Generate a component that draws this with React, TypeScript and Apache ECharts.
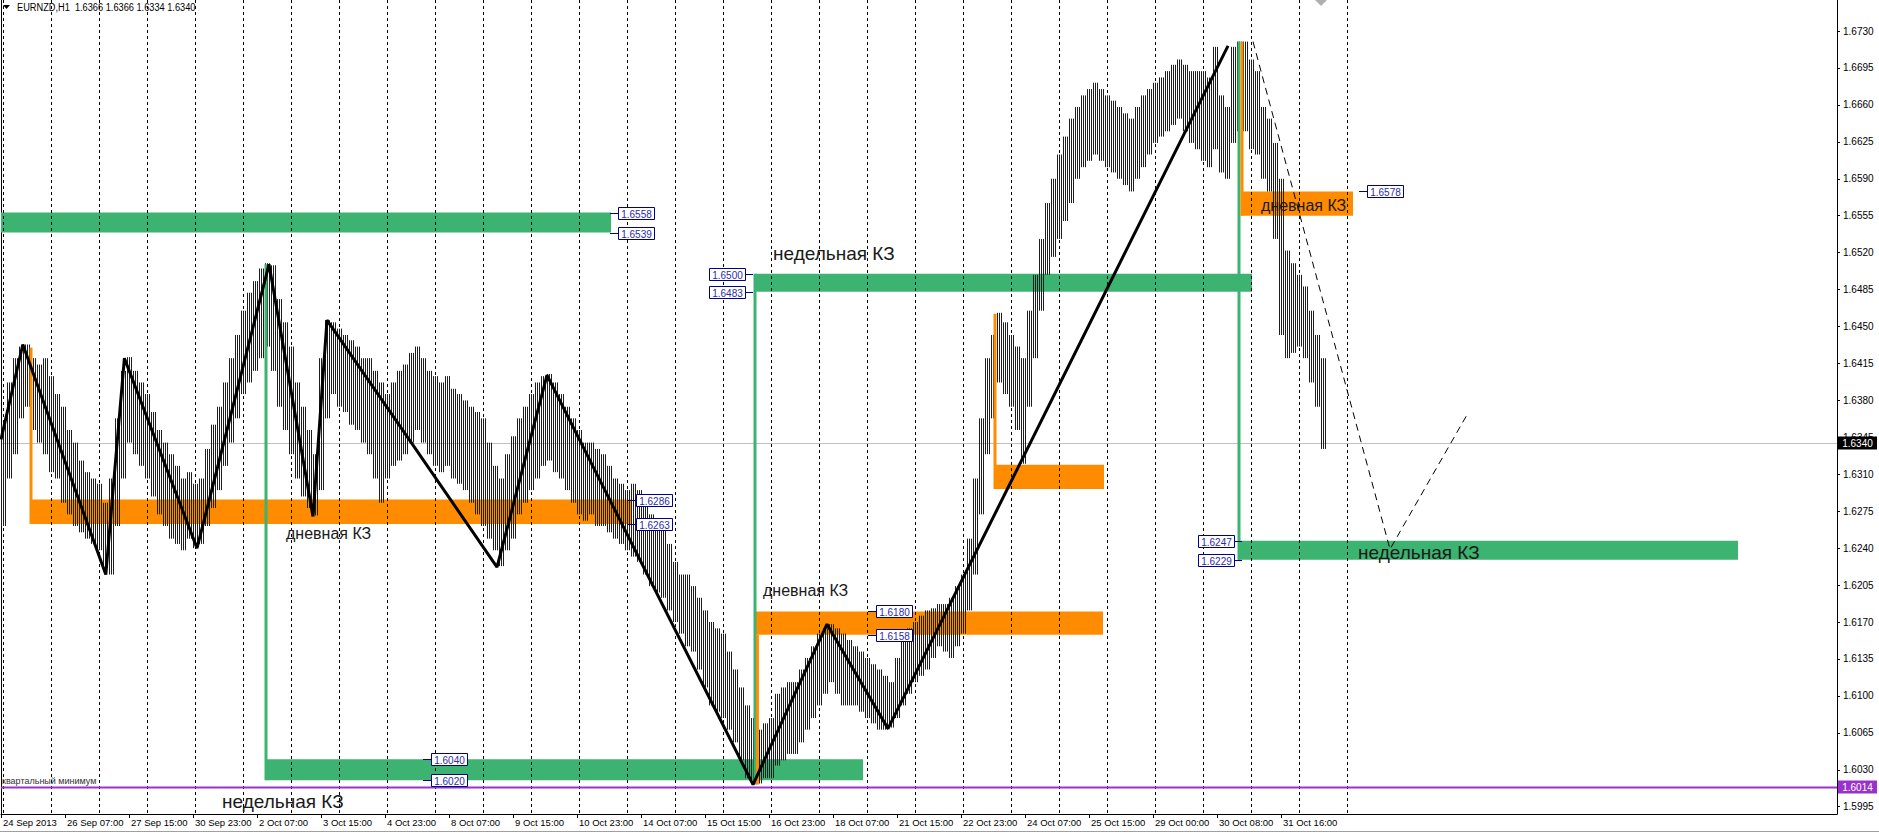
import React, { useEffect, useRef } from "react";
import * as echarts from "echarts";

const SANS = "'Liberation Sans', Arial, 'DejaVu Sans', sans-serif";

const chartTitle = "EURNZD,H1  1.6366 1.6366 1.6334 1.6340";

const timeLabels = [
  "24 Sep 2013", "26 Sep 07:00", "27 Sep 15:00", "30 Sep 23:00", "2 Oct 07:00", "3 Oct 15:00",
  "4 Oct 23:00", "8 Oct 07:00", "9 Oct 15:00", "10 Oct 23:00", "14 Oct 07:00", "15 Oct 15:00",
  "16 Oct 23:00", "18 Oct 07:00", "21 Oct 15:00", "22 Oct 23:00", "24 Oct 07:00", "25 Oct 15:00",
  "29 Oct 00:00", "30 Oct 08:00", "31 Oct 16:00",
];
const timeLabelBars = [0, 32, 64, 96, 128, 160, 192, 224, 256, 288, 320, 352, 384, 416, 448, 480, 512, 544, 576, 608, 640];
const daySeparatorBars = [1, 25, 49, 73, 97, 121, 145, 169, 193, 217, 241, 265, 289, 313, 337, 361, 385, 409, 433, 457, 481, 505, 529, 553, 577, 601, 625, 649, 673];

const priceTicks = [
  1.5995, 1.603, 1.6065, 1.61, 1.6135, 1.617, 1.6205, 1.624, 1.6275, 1.631, 1.6345,
  1.638, 1.6415, 1.645, 1.6485, 1.652, 1.6555, 1.659, 1.6625, 1.666, 1.6695, 1.673,
];
const priceMin = 1.59881;
const priceMax = 1.67594;
const barMax = 918;

// one entry = 3 hourly bars (high / low of the group)
const barsPerGroup = 3;
const groupHigh = [
  1.6357, 1.6397, 1.6420, 1.6431, 1.6433, 1.6420, 1.6414, 1.6420, 1.6403, 1.6386,
  1.6374, 1.6352, 1.6340, 1.6323, 1.6312, 1.6306, 1.6301, 1.6283, 1.6306, 1.6363,
  1.6408, 1.6421, 1.6408, 1.6397, 1.6386, 1.6369, 1.6352, 1.6340, 1.6329, 1.6318,
  1.6306, 1.6312, 1.6301, 1.6306, 1.6334, 1.6357, 1.6374, 1.6397, 1.6420, 1.6442,
  1.6465, 1.6482, 1.6493, 1.6505, 1.6510, 1.6508, 1.6476, 1.6454, 1.6431, 1.6397,
  1.6374, 1.6352, 1.6329, 1.6420, 1.6456, 1.6454, 1.6448, 1.6442, 1.6437, 1.6431,
  1.6420, 1.6420, 1.6408, 1.6397, 1.6386, 1.6397, 1.6408, 1.6414, 1.6425, 1.6431,
  1.6420, 1.6408, 1.6403, 1.6397, 1.6403, 1.6391, 1.6386, 1.6380, 1.6374, 1.6369,
  1.6363, 1.6340, 1.6318, 1.6306, 1.6329, 1.6346, 1.6363, 1.6374, 1.6386, 1.6397,
  1.6403, 1.6405, 1.6397, 1.6386, 1.6374, 1.6363, 1.6352, 1.6340, 1.6340, 1.6334,
  1.6329, 1.6318, 1.6306, 1.6301, 1.6295, 1.6301, 1.6295, 1.6283, 1.6272, 1.6266,
  1.6261, 1.6244, 1.6227, 1.6215, 1.6215, 1.6204, 1.6193, 1.6181, 1.6170, 1.6164,
  1.6159, 1.6142, 1.6125, 1.6108, 1.6091, 1.6079, 1.6068, 1.6074, 1.6079, 1.6102,
  1.6108, 1.6113, 1.6113, 1.6125, 1.6136, 1.6147, 1.6159, 1.6164, 1.6168, 1.6164,
  1.6159, 1.6153, 1.6147, 1.6142, 1.6136, 1.6130, 1.6125, 1.6119, 1.6113, 1.6136,
  1.6159, 1.6164, 1.6170, 1.6176, 1.6181, 1.6183, 1.6187, 1.6187, 1.6193, 1.6204,
  1.6215, 1.6249, 1.6306, 1.6363, 1.6420, 1.6442, 1.6463, 1.6454, 1.6442, 1.6431,
  1.6420, 1.6465, 1.6499, 1.6533, 1.6567, 1.6590, 1.6613, 1.6630, 1.6647, 1.6658,
  1.6669, 1.6675, 1.6681, 1.6675, 1.6669, 1.6664, 1.6658, 1.6652, 1.6647, 1.6658,
  1.6669, 1.6675, 1.6681, 1.6686, 1.6692, 1.6698, 1.6703, 1.6698, 1.6692, 1.6692,
  1.6692, 1.6686, 1.6715, 1.6669, 1.6658, 1.6715, 1.6720, 1.6720, 1.6703, 1.6692,
  1.6658, 1.6647, 1.6624, 1.6590, 1.6522, 1.6510, 1.6499, 1.6488, 1.6465, 1.6442,
  1.6420,
];
const groupLow = [
  1.6261, 1.6306, 1.6329, 1.6363, 1.6374, 1.6352, 1.6340, 1.6329, 1.6312, 1.6306,
  1.6283, 1.6272, 1.6261, 1.6255, 1.6249, 1.6244, 1.6238, 1.6221, 1.6215, 1.6261,
  1.6306, 1.6340, 1.6329, 1.6318, 1.6306, 1.6289, 1.6272, 1.6261, 1.6249, 1.6244,
  1.6238, 1.6249, 1.6240, 1.6244, 1.6261, 1.6278, 1.6295, 1.6318, 1.6340, 1.6363,
  1.6386, 1.6397, 1.6408, 1.6420, 1.6431, 1.6408, 1.6374, 1.6352, 1.6329, 1.6306,
  1.6289, 1.6278, 1.6271, 1.6295, 1.6363, 1.6386, 1.6374, 1.6369, 1.6357, 1.6352,
  1.6340, 1.6329, 1.6306, 1.6283, 1.6306, 1.6318, 1.6323, 1.6329, 1.6340, 1.6352,
  1.6340, 1.6329, 1.6318, 1.6312, 1.6318, 1.6306, 1.6301, 1.6295, 1.6283, 1.6272,
  1.6261, 1.6249, 1.6238, 1.6223, 1.6238, 1.6249, 1.6272, 1.6283, 1.6295, 1.6306,
  1.6318, 1.6323, 1.6312, 1.6306, 1.6295, 1.6283, 1.6272, 1.6266, 1.6272, 1.6261,
  1.6261, 1.6255, 1.6249, 1.6244, 1.6238, 1.6232, 1.6227, 1.6215, 1.6204, 1.6198,
  1.6193, 1.6181, 1.6170, 1.6159, 1.6147, 1.6142, 1.6125, 1.6108, 1.6091, 1.6085,
  1.6079, 1.6068, 1.6056, 1.6039, 1.6022, 1.6020, 1.6017, 1.6022, 1.6022, 1.6034,
  1.6039, 1.6045, 1.6045, 1.6056, 1.6068, 1.6079, 1.6091, 1.6102, 1.6113, 1.6102,
  1.6091, 1.6091, 1.6091, 1.6085, 1.6079, 1.6074, 1.6068, 1.6068, 1.6070, 1.6079,
  1.6091, 1.6102, 1.6113, 1.6119, 1.6125, 1.6136, 1.6147, 1.6142, 1.6136, 1.6147,
  1.6159, 1.6181, 1.6215, 1.6272, 1.6329, 1.6363, 1.6397, 1.6386, 1.6374, 1.6352,
  1.6320, 1.6374, 1.6420, 1.6465, 1.6499, 1.6516, 1.6533, 1.6550, 1.6567, 1.6590,
  1.6601, 1.6607, 1.6613, 1.6607, 1.6601, 1.6596, 1.6590, 1.6584, 1.6578, 1.6590,
  1.6601, 1.6613, 1.6624, 1.6630, 1.6635, 1.6641, 1.6647, 1.6635, 1.6624, 1.6618,
  1.6607, 1.6601, 1.6618, 1.6596, 1.6590, 1.6624, 1.6635, 1.6635, 1.6618, 1.6613,
  1.6590, 1.6578, 1.6533, 1.6442, 1.6420, 1.6425, 1.6431, 1.6420, 1.6397, 1.6374,
  1.6334,
];

type Kind = "daily" | "weekly";
// [startBar, endBar, lowPrice, highPrice, kind]
const zones: [number, number, number, number, Kind][] = [
  [0, 305, 1.6539, 1.6558, "weekly"],
  [15, 315, 1.6263, 1.6286, "daily"],
  [132.5, 431, 1.602, 1.604, "weekly"],
  [377, 551, 1.6158, 1.618, "daily"],
  [377, 625.5, 1.6483, 1.65, "weekly"],
  [497, 551.5, 1.6296, 1.6319, "daily"],
  [620, 676, 1.6555, 1.6578, "daily"],
  [618.5, 868.5, 1.6229, 1.6247, "weekly"],
];
// [bar, fromPrice, toPrice, kind]
const zoneStems: [number, number, number, Kind][] = [
  [15, 1.643, 1.6263, "daily"],
  [132.5, 1.6509, 1.602, "weekly"],
  [377, 1.65, 1.6016, "weekly"],
  [378.2, 1.6158, 1.6016, "daily"],
  [497, 1.6462, 1.6296, "daily"],
  [619, 1.672, 1.6229, "weekly"],
  [620.5, 1.672, 1.6555, "daily"],
];
const zigzag: [number, number][] = [
  [0, 1.6343], [10.9, 1.6433], [52.4, 1.6215], [61.7, 1.642], [98, 1.624], [134, 1.6509],
  [156, 1.627], [163, 1.6456], [248, 1.6222], [273, 1.6404], [376, 1.6016], [413, 1.6168],
  [443.5, 1.6069], [613.5, 1.6716],
];
const forecast: [number, number][] = [[626, 1.672], [694.5, 1.6239], [733.5, 1.6368]];
// [bar, price, side]
const priceTags: [number, number, "r" | "l"][] = [
  [304.5, 1.6558, "r"], [304.5, 1.6539, "r"],
  [313.5, 1.6286, "r"], [313.5, 1.6263, "r"],
  [211, 1.604, "r"], [211, 1.602, "r"],
  [433.5, 1.618, "r"], [433.5, 1.6158, "r"],
  [679, 1.6578, "r"],
  [376, 1.65, "l"], [376, 1.6483, "l"],
  [620.5, 1.6247, "l"], [620.5, 1.6229, "l"],
];
const notes: [number, number, string, "daily" | "weekly" | "small"][] = [
  [142.5, 1.6254, "дневная КЗ", "daily"],
  [110.5, 1.59995, "недельная КЗ", "weekly"],
  [386, 1.6519, "недельная КЗ", "weekly"],
  [381, 1.62, "дневная КЗ", "daily"],
  [630, 1.6565, "дневная КЗ", "daily"],
  [678.5, 1.6236, "недельная КЗ", "weekly"],
  [0.5, 1.6019, "квартальный минимум", "small"],
];
// horizontal levels: [price, kind]
const levels: [number, "bid" | "quarter"][] = [
  [1.634, "bid"],
  [1.6014, "quarter"],
];

const GREEN = "#3CB371";
const ORANGE = "#FF8C00";
const PURPLE = "#9932CC";

export default function App() {
  const ref = useRef<HTMLDivElement>(null);
  useEffect(() => {
    document.body.style.margin = "0";
    document.body.style.background = "#fff";
    const chart = echarts.init(ref.current!, null, { renderer: "svg" });
    const kindColor = (k: Kind) => (k === "weekly" ? GREEN : ORANGE);

    const option: any = {
      animation: false,
      backgroundColor: "#fff",
      grid: { left: 1, right: 42, top: 0, bottom: 22, show: false },
      xAxis: {
        type: "value",
        min: 0,
        max: barMax,
        position: "bottom",
        axisLine: { show: true, onZero: false, lineStyle: { color: "#000", width: 1 } },
        axisTick: { show: true, customValues: timeLabelBars, length: 4, lineStyle: { color: "#000" } },
        axisLabel: {
          show: true,
          customValues: timeLabelBars,
          formatter: (v: number) => timeLabels[timeLabelBars.indexOf(Math.round(v))] ?? "",
          align: "left",
          margin: 3,
          padding: [0, 0, 0, 2],
          color: "#000",
          fontSize: 9.5,
          fontFamily: SANS,
        },
        splitLine: { show: false },
      },
      yAxis: [
        {
          type: "value",
          position: "right",
          min: priceMin,
          max: priceMax,
          axisLine: { show: true, onZero: false, lineStyle: { color: "#000", width: 1 } },
          axisTick: { show: true, customValues: priceTicks, length: 3, lineStyle: { color: "#000" } },
          axisLabel: {
            show: true,
            customValues: priceTicks,
            formatter: (v: number) => v.toFixed(4),
            margin: 6,
            color: "#000",
            fontSize: 10,
            fontFamily: SANS,
          },
          splitLine: { show: false },
        },
        {
          type: "value",
          position: "left",
          min: priceMin,
          max: priceMax,
          axisLine: { show: true, onZero: false, lineStyle: { color: "#000", width: 1 } },
          axisTick: { show: false },
          axisLabel: { show: false },
          splitLine: { show: false },
        },
      ],
      graphic: [
        { type: "polygon", shape: { points: [[3, 5], [10, 5], [6.5, 9]] }, style: { fill: "#000" }, z: 10 },
        {
          type: "text", x: 17, y: 7, scaleX: 0.84,
          style: { text: chartTitle, fill: "#000", fontSize: 11, fontFamily: SANS, verticalAlign: "middle", align: "left" },
          z: 10,
        },
        { type: "polygon", shape: { points: [[1315, 0], [1327, 0], [1321, 6]] }, style: { fill: "#b0b0b0" }, z: 10 },
        { type: "line", shape: { x1: 0, y1: 831.5, x2: 1879, y2: 831.5 }, style: { stroke: "#a0a0a0", lineWidth: 1 }, z: 10 },
      ],
      series: [
        {
          type: "custom",
          name: "zones",
          z: 1,
          silent: true,
          data: zones.map((z) => [z[0], z[3]]),
          renderItem: (params: any, api: any) => {
            const z = zones[params.dataIndex];
            const p0 = api.coord([z[0], z[3]]);
            const p1 = api.coord([z[1], z[2]]);
            return {
              type: "rect",
              shape: { x: p0[0], y: p0[1], width: p1[0] - p0[0], height: p1[1] - p0[1] },
              style: { fill: kindColor(z[4]) },
            };
          },
        },
        {
          type: "custom",
          name: "days",
          z: 2,
          silent: true,
          data: daySeparatorBars.map((b) => [b, priceMin]),
          renderItem: (params: any, api: any) => {
            const b = daySeparatorBars[params.dataIndex];
            const x = Math.round(api.coord([b, priceMin])[0]) + 0.5;
            const cs = params.coordSys;
            return {
              type: "line",
              shape: { x1: x, y1: cs.y, x2: x, y2: cs.y + cs.height },
              style: { stroke: "#000", lineWidth: 1, lineDash: [3, 3] },
            };
          },
        },
        {
          type: "custom",
          name: "levels",
          z: 2,
          silent: true,
          data: levels.map((l) => [0, l[0]]),
          renderItem: (params: any, api: any) => {
            const l = levels[params.dataIndex];
            const cs = params.coordSys;
            const y = Math.round(api.coord([0, l[0]])[1]) + 0.5;
            const isBid = l[1] === "bid";
            const color = isBid ? "#000" : PURPLE;
            return {
              type: "group",
              children: [
                {
                  type: "line",
                  shape: { x1: cs.x, y1: y, x2: cs.x + cs.width, y2: y },
                  style: { stroke: isBid ? "#c0c0c0" : PURPLE, lineWidth: isBid ? 1 : 2 },
                },
                {
                  type: "rect",
                  shape: { x: cs.x + cs.width + 1, y: y - 7, width: 39, height: 13 },
                  style: { fill: color },
                },
                {
                  type: "text",
                  style: {
                    text: l[0].toFixed(4), x: cs.x + cs.width + 20.5, y: y, align: "center", verticalAlign: "middle",
                    fill: "#fff", fontSize: 10, fontFamily: SANS,
                  },
                },
              ],
            };
          },
        },
        {
          type: "custom",
          name: "bars",
          z: 3,
          silent: true,
          data: groupHigh.map((h, g) => [g * barsPerGroup + 1, h]),
          renderItem: (params: any, api: any) => {
            const g = params.dataIndex;
            const children: any[] = [];
            for (let k = 0; k < barsPerGroup; k++) {
              const bar = g * barsPerGroup + k;
              const top = api.coord([bar, groupHigh[g]]);
              const bot = api.coord([bar, groupLow[g]]);
              const x = Math.round(top[0]) + 0.5;
              children.push({
                type: "line",
                shape: { x1: x, y1: top[1], x2: x, y2: bot[1] },
                style: { stroke: "#1e1e1e", lineWidth: 1 },
              });
            }
            return { type: "group", children };
          },
        },
        {
          type: "custom",
          name: "stems",
          z: 4,
          silent: true,
          data: zoneStems.map((s) => [s[0], s[1]]),
          renderItem: (params: any, api: any) => {
            const s = zoneStems[params.dataIndex];
            const a = api.coord([s[0], s[1]]);
            const b = api.coord([s[0], s[2]]);
            return {
              type: "line",
              shape: { x1: a[0], y1: a[1], x2: a[0], y2: b[1] },
              style: { stroke: kindColor(s[3]), lineWidth: 3 },
            };
          },
        },
        {
          type: "line",
          name: "zigzag",
          z: 5,
          silent: true,
          symbol: "none",
          data: zigzag,
          lineStyle: { color: "#000", width: 3 },
        },
        {
          type: "line",
          name: "forecast",
          z: 5,
          silent: true,
          symbol: "none",
          data: forecast,
          lineStyle: { color: "#000", width: 1, type: [7, 5] },
        },
        {
          type: "custom",
          name: "tags",
          z: 6,
          silent: true,
          data: priceTags.map((t) => [t[0], t[1]]),
          renderItem: (params: any, api: any) => {
            const t = priceTags[params.dataIndex];
            const pt = api.coord([t[0], t[1]]);
            const w = 36, h = 12, gap = 8;
            const bx = Math.round(t[2] === "r" ? pt[0] + gap : pt[0] - gap - w) + 0.5;
            const y = Math.round(pt[1]) + 0.5;
            return {
              type: "group",
              children: [
                { type: "line", shape: { x1: pt[0], y1: y, x2: t[2] === "r" ? bx : bx + w, y2: y }, style: { stroke: "#00008B", lineWidth: 1 } },
                { type: "rect", shape: { x: bx, y: y - h / 2, width: w, height: h }, style: { fill: "#fff", stroke: "#00008B", lineWidth: 1 } },
                {
                  type: "text",
                  style: {
                    text: t[1].toFixed(4), x: bx + w / 2, y: y + 0.5, align: "center", verticalAlign: "middle",
                    fill: "#2a2ab0", fontSize: 10, fontFamily: SANS,
                  },
                },
              ],
            };
          },
        },
        {
          type: "custom",
          name: "notes",
          z: 7,
          silent: true,
          data: notes.map((n) => [n[0], n[1]]),
          renderItem: (params: any, api: any) => {
            const n = notes[params.dataIndex];
            const pt = api.coord([n[0], n[1]]);
            const size = n[3] === "weekly" ? 19 : n[3] === "daily" ? 16 : 9;
            return {
              type: "text",
              style: {
                text: n[2], x: pt[0], y: pt[1], align: "left", verticalAlign: "middle",
                fill: n[3] === "small" ? "#333" : "#1a1a1a", fontSize: size, fontFamily: SANS,
              },
            };
          },
        },
      ],
    };
    chart.setOption(option);
    return () => chart.dispose();
  }, []);
  return <div ref={ref} style={{ width: 1879, height: 836 }} />;
}
